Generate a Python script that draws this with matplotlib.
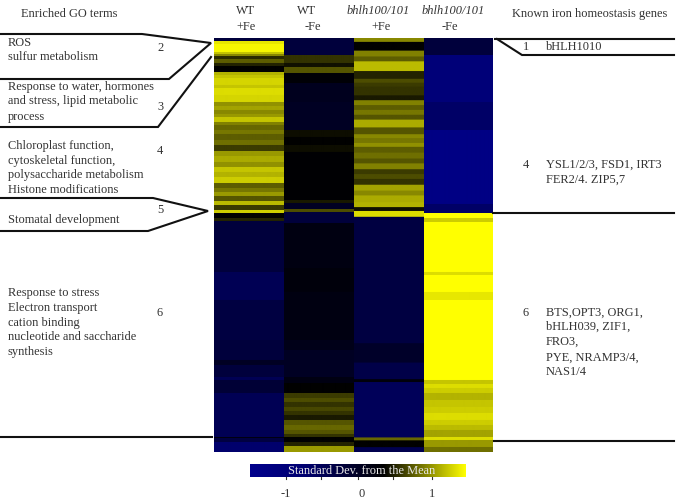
import numpy as np
import matplotlib
matplotlib.use("Agg")
import matplotlib.pyplot as plt
from matplotlib.colors import LinearSegmentedColormap

# heatmap rows: how many rows each band covers, and its value (std dev from the mean)
wt_fe_rows = [3, 3, 8, 2, 2, 3, 4, 3, 6, 3, 3, 7, 3, 7, 7, 4, 4, 4, 3, 5, 3, 5, 4, 6, 5, 6, 5, 6, 5, 5, 5, 6, 5, 4, 4, 5, 4, 5, 3, 5, 3, 51, 28, 40, 20, 5, 12, 3, 13, 44, 1, 4, 10]
wt_fe_vals = [-0.5, 1.35, 1.45, 1.15, 0.8, 0.25, 0.55, 0.2, 0.0, 1.05, 1.15, 1.25, 1.15, 1.3, 1.25, 0.85, 0.95, 0.8, 0.9, 1.15, 0.75, 0.6, 0.7, 0.55, 0.65, 0.35, 0.9, 1.0, 0.85, 1.15, 1.05, 1.2, 0.55, 0.7, 0.9, 0.5, 1.1, 0.35, 1.2, 0.0, 0.2, -0.5, -0.7, -0.55, -0.5, -0.3, -0.5, -0.7, -0.45, -0.7, -0.15, -0.55, -0.9]
wt_nofe_rows = [17, 8, 4, 6, 10, 19, 28, 7, 8, 7, 48, 3, 6, 3, 11, 45, 24, 48, 10, 27, 6, 10, 5, 4, 5, 4, 4, 5, 5, 5, 4, 3, 5, 4, 6]
wt_nofe_vals = [-0.5, 0.3, 0.1, 0.5, -0.05, -0.25, -0.3, 0.08, 0.0, 0.08, -0.03, 0.15, -0.3, 0.45, -0.5, -0.15, -0.1, -0.15, -0.2, -0.3, -0.15, 0.0, 0.35, 0.45, 0.3, 0.42, 0.3, 0.15, 0.5, 0.6, 0.5, 0.3, 0.0, 0.2, 0.9]
mut_fe_rows = [4, 9, 6, 5, 10, 8, 4, 4, 9, 5, 5, 5, 5, 5, 8, 7, 4, 5, 4, 6, 6, 5, 6, 5, 5, 6, 6, 5, 7, 5, 4, 6, 130, 20, 17, 3, 57, 3, 7, 5]
mut_fe_vals = [0.8, 0.0, 0.75, 0.55, 1.1, 0.2, 0.45, 0.35, 0.3, 0.15, 0.75, 0.55, 0.7, 0.5, 1.0, 0.5, 0.8, 0.7, 0.85, 0.55, 0.65, 0.5, 0.75, 0.35, 0.45, 0.3, 0.95, 0.8, 1.0, 1.05, 0.1, 1.3, -0.55, -0.35, -0.6, -0.1, -0.75, 0.6, 0.0, -0.65]
mut_nofe_rows = [17, 47, 28, 74, 9, 5, 4, 50, 3, 17, 8, 80, 4, 4, 5, 7, 7, 6, 7, 5, 5, 7, 3, 7, 5]
mut_nofe_vals = [-0.5, -1.0, -0.85, -1.1, -0.85, 1.5, 1.2, 1.5, 1.3, 1.5, 1.35, 1.5, 1.15, 1.3, 1.2, 1.05, 1.15, 1.2, 1.3, 1.2, 1.1, 0.95, 1.3, 0.9, 0.65]

go_terms = [
    (43, "ROS"), (57, "sulfur metabolism"),
    (87, "Response to water, hormones"), (101, "and stress, lipid metabolic"), (117, "process"),
    (146, "Chloroplast function,"), (161, "cytoskeletal function,"),
    (175, "polysaccharide metabolism"), (190, "Histone modifications"),
    (220, "Stomatal development"),
    (293, "Response to stress"), (308, "Electron transport"), (323, "cation binding"),
    (337, "nucleotide and saccharide"), (352, "synthesis"),
]
go_clusters = [(48, "2"), (107, "3"), (151, "4"), (210, "5"), (313, "6")]
iron_genes = [
    (47, "bHLH1010"), (165, "YSL1/2/3, FSD1, IRT3"), (180, "FER2/4. ZIP5,7"),
    (313, "BTS,OPT3, ORG1,"), (327, "bHLH039, ZIF1,"), (342, "FRO3,"),
    (358, "PYE, NRAMP3/4,"), (372, "NAS1/4"),
]
iron_clusters = [(47, "1"), (165, "4"), (313, "6")]

plt.rcParams["font.family"] = ["Liberation Serif", "DejaVu Serif"]
cmap = LinearSegmentedColormap.from_list("by", ["#0000b4", "#000000", "#ffff00"])
bar_cmap = LinearSegmentedColormap.from_list("bar", [(0, "#00008c"), (0.25, "#000070"), (0.62, "#000000"), (1, "#ffff00")])
ink = "#333333"
fs = 8.9

fig = plt.figure(figsize=(6.78, 5.04), dpi=100)
ax = fig.add_axes([0, 0, 1, 1])

# heatmap, one strip per condition
strips = [(wt_fe_rows, wt_fe_vals), (wt_nofe_rows, wt_nofe_vals),
          (mut_fe_rows, mut_fe_vals), (mut_nofe_rows, mut_nofe_vals)]
col_edges = [214, 284, 354, 424, 493]
for i, (rows, vals) in enumerate(strips):
    col = np.repeat(vals, rows)[:, None]
    ax.imshow(col, cmap=cmap, vmin=-1.5, vmax=1.5, aspect="auto", interpolation="bilinear",
              extent=[col_edges[i], col_edges[i + 1], 452, 38])

# colour bar
grad = np.linspace(0, 1, 256)[None, :]
ax.imshow(grad, cmap=bar_cmap, aspect="auto", extent=[250, 466, 477, 464])
ax.text(362, 471, "Standard Dev. from the Mean", color="#e8e8e8", fontsize=fs, ha="center", va="center")
for x in [286, 321, 358, 393, 432]:
    ax.plot([x, x], [477, 478.5], color="#333333", lw=0.8)
for x, lab in [(286, "-1"), (362, "0"), (432, "1")]:
    ax.text(x, 494, lab, color=ink, fontsize=fs, ha="center", va="center")
ax.set_xlim(0, 678)
ax.set_ylim(504, 0)
ax.axis("off")

# brackets
line = dict(color="#111111", lw=1.5, solid_joinstyle="miter")
ax.plot([0, 142, 211, 169, 0], [34, 34, 43, 79, 79], **line)
ax.plot([211, 158, 0], [57, 127, 127], **line)
ax.plot([0, 153, 208, 148, 0], [198, 198, 211, 231, 231], **line)
ax.plot([0, 212], [437, 437], **line)
ax.plot([495, 674], [39, 39], **line)
ax.plot([497, 522, 674], [39, 55, 55], **line)
ax.plot([493, 674], [213, 213], **line)
ax.plot([494, 674], [441, 441], **line)

# headers
ax.text(21, 14, "Enriched GO terms", color=ink, fontsize=fs, va="center")
ax.text(512, 14, "Known iron homeostasis genes", color=ink, fontsize=fs, va="center")
ax.text(246, 11, "WT", color=ink, fontsize=fs, ha="center", va="center")
ax.text(246, 27, "+Fe", color=ink, fontsize=fs, ha="center", va="center")
ax.text(307, 11, "WT", color=ink, fontsize=fs, ha="center", va="center")
ax.text(313, 27, "-Fe", color=ink, fontsize=fs, ha="center", va="center")
ax.text(378, 11, "bhlh100/101", color=ink, fontsize=fs, ha="center", va="center", style="italic")
ax.text(381, 27, "+Fe", color=ink, fontsize=fs, ha="center", va="center")
ax.text(453, 11, "bhlh100/101", color=ink, fontsize=fs, ha="center", va="center", style="italic")
ax.text(450, 27, "-Fe", color=ink, fontsize=fs, ha="center", va="center")

for y, s in go_terms:
    ax.text(8, y, s, color=ink, fontsize=fs, va="center")
for y, s in go_clusters:
    ax.text(160, y, s, color=ink, fontsize=fs, ha="center", va="center")
for y, s in iron_genes:
    ax.text(546, y, s, color=ink, fontsize=fs, va="center")
for y, s in iron_clusters:
    ax.text(526, y, s, color=ink, fontsize=fs, ha="center", va="center")

fig.savefig("out.png", dpi=100)
